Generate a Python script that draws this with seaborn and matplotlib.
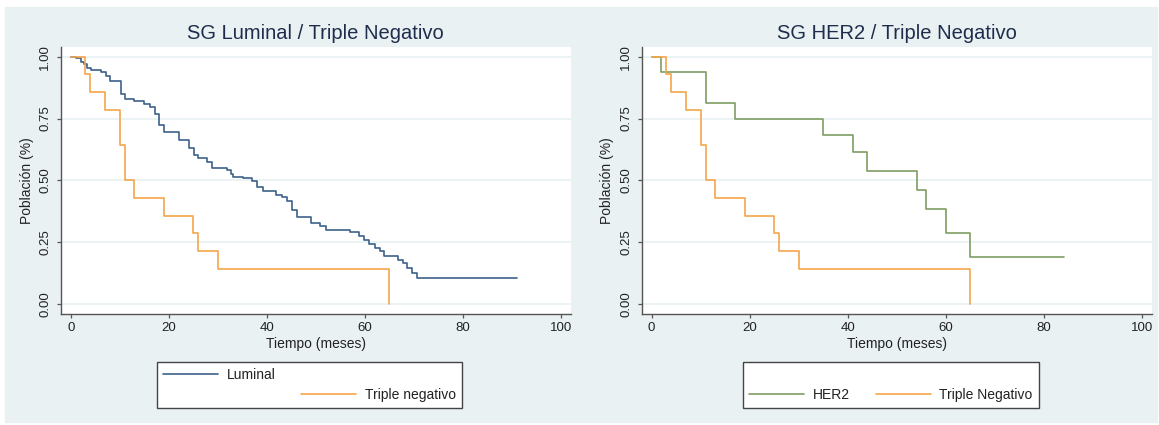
import matplotlib
matplotlib.use("Agg")
import matplotlib.pyplot as plt
import seaborn as sns
from matplotlib.lines import Line2D
from matplotlib.patches import Rectangle

# curvas de supervivencia
luminal_t = [0, 1, 2, 2.6, 3.3, 4.2, 6.1, 7.1, 8.1, 10.2, 11, 13, 15, 16.1, 17.1, 18.1, 19, 22,
             24.1, 25.1, 25.9, 27.8, 28.8, 31.9, 32.7, 33.2, 35.1, 36.9, 38, 39.2, 41.9, 43.1,
             44.1, 45.2, 46.1, 49.1, 50.8, 52, 56.9, 58.9, 59.9, 60.8, 62, 63, 64, 66.7, 67.7,
             68.7, 69.7, 70.7, 91]
luminal_s = [1, .993, .98, .97, .953, .945, .936, .922, .90, .85, .829, .82, .809, .797, .768,
             .722, .695, .662, .632, .602, .592, .575, .552, .542, .528, .515, .508, .497, .475,
             .458, .441, .432, .418, .381, .354, .33, .317, .301, .29, .274, .261, .245, .227,
             .214, .197, .18, .167, .147, .127, .108, .108]

tn_t = [0, 3, 4, 7, 10, 11, 13, 19, 25, 26, 30, 65]
tn_s = [1, .929, .857, .786, .643, .5, .429, .357, .286, .214, .143, 0]

her2_t = [0, 2, 11, 17, 35, 41, 44, 54, 56, 60, 65, 84]
her2_s = [1, .9375, .8125, .75, .682, .614, .537, .46, .383, .287, .191, .191]

titulos = ["SG Luminal / Triple Negativo", "SG HER2 / Triple Negativo"]
yticks = [0, 0.25, 0.5, 0.75, 1.0]
xticks = [0, 20, 40, 60, 80, 100]

AZUL = "#3D618A"
NARANJA = "#F5A54A"
VERDE = "#7E9E62"
FONDO = "#E9F1F3"
LW = 1.2

sns.set_style("ticks")
plt.rcParams["font.family"] = ["Liberation Sans", "DejaVu Sans"]

fig = plt.figure(figsize=(11.59, 4.25), dpi=100)
fig.patch.set_facecolor("white")
fig.patches.append(Rectangle((5 / 1159, 3 / 425), 1152 / 1159, 415 / 425,
                             transform=fig.transFigure, color=FONDO, zorder=-10))

ax1 = fig.add_axes([0.0526, 0.2612, 0.4398, 0.6289])
ax2 = fig.add_axes([0.5537, 0.2612, 0.4403, 0.6289])

def curva(ax, t, s, color):
    sns.lineplot(x=t, y=s, ax=ax, color=color, lw=LW, drawstyle="steps-post",
                 estimator=None, sort=False, legend=False)
    return ax.get_lines()[-1]

l_lum = curva(ax1, luminal_t, luminal_s, AZUL)
l_tn1 = curva(ax1, tn_t, tn_s, NARANJA)
l_her = curva(ax2, her2_t, her2_s, VERDE)
l_tn2 = curva(ax2, tn_t, tn_s, NARANJA)

for ax, titulo in zip([ax1, ax2], titulos):
    ax.set_facecolor("white")
    ax.set_xlim(-2, 102)
    ax.set_ylim(-0.039, 1.04)
    ax.set_xticks(xticks)
    ax.set_yticks(yticks)
    ax.set_yticklabels([f"{v:.2f}" for v in yticks])
    ax.grid(axis="y", color=FONDO, lw=1.2)
    ax.grid(axis="x", visible=False)
    for side in ["top", "right"]:
        ax.spines[side].set_visible(False)
    for side in ["left", "bottom"]:
        ax.spines[side].set_color("#555555")
        ax.spines[side].set_linewidth(1.0)
    ax.tick_params(axis="both", direction="out", length=3, width=0.9, color="#555555",
                   labelsize=9.5, labelcolor="#222222")
    ax.tick_params(axis="y", labelrotation=90, pad=4)
    ax.tick_params(axis="x", pad=3)
    for lbl in ax.get_yticklabels():
        lbl.set_va("center")
    ax.set_xlabel("Tiempo (meses)", fontsize=10, color="#222222", labelpad=2)
    ax.set_ylabel("Población (%)", fontsize=10, color="#222222", labelpad=4)
    ax.text(0.5, 1.051, titulo, transform=ax.transAxes, ha="center", va="center",
            fontsize=14.5, color="#1F2D4D")

vacio = Line2D([], [], color="none")
opts = dict(loc="upper left", ncol=2, fontsize=10, frameon=True, fancybox=False,
            edgecolor="#444444", framealpha=1, handlelength=3.95, handletextpad=0.63,
            columnspacing=1.85, borderpad=0.45, labelspacing=0.4, borderaxespad=0,
            bbox_transform=fig.transFigure)

leg1 = fig.legend([l_lum, vacio, vacio, l_tn1], ["Luminal", "", "", "Triple negativo"],
                  bbox_to_anchor=(157 / 1159, 1 - 362 / 425), **opts)
leg2 = fig.legend([vacio, l_her, vacio, l_tn2], ["", "HER2", "", "Triple Negativo"],
                  bbox_to_anchor=(743 / 1159, 1 - 362 / 425), **opts)
for leg in [leg1, leg2]:
    leg.get_frame().set_linewidth(1.0)
    for txt in leg.get_texts():
        txt.set_color("#222222")

fig.savefig("out.png", dpi=100, facecolor=fig.get_facecolor())
